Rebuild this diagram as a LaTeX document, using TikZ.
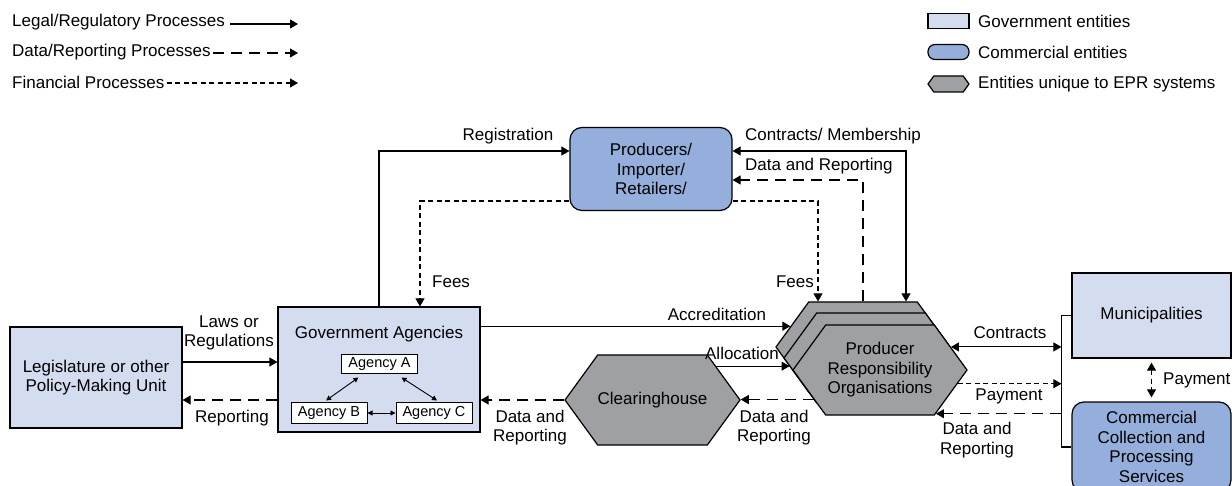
\documentclass[tikz,border=0pt]{standalone}
\usepackage{fontspec}
\setmainfont{Liberation Sans}
\usetikzlibrary{arrows.meta, shapes.symbols, calc}
\newcommand{\Unit}{1pt}
\definecolor{GovFill}{HTML}{D4DDF0}
\definecolor{ComFill}{HTML}{94AFDB}
\definecolor{EprFill}{HTML}{9FA0A3}
\tikzset{
	GovBox/.style={
		draw=black,
		line width=1.2pt,
		fill=GovFill,
		inner sep=0pt,
		align=center,
	},
	ComBox/.style={GovBox, fill=ComFill, rounded corners=12pt},
	EprHex/.style={
		draw=black,
		line width=1.2pt,
		fill=EprFill,
		shape=signal,
		signal to=east and west,
		signal pointer angle=108,
		inner sep=0pt,
		align=center,
	},
	AgencyBox/.style={
		draw=black,
		line width=1pt,
		fill=white,
		inner sep=0pt,
		minimum width=76,
		minimum height=21,
		font=\fontsize{14.5}{17}\selectfont,
	},
	Label/.style={inner sep=0pt, align=center},
	Legal/.style={->, line width=1.1pt},
	Data/.style={Legal, dash pattern=on 11pt off 7pt},
	Financial/.style={Legal, dash pattern=on 5pt off 3.5pt},
	Small/.style={<->, >={Triangle[length=5pt,width=5pt]}, line width=0.9pt},
}

\begin{document}
\begin{tikzpicture}[x=\Unit, y=-\Unit, >={Triangle[length=8pt,width=9pt]},
		font=\fontsize{17}{19.5}\selectfont]
	\clip (0,0) rectangle (1232,486);

	% key, left
	\node[Label, anchor=west] (klegal) at (12,22) {Legal/Regulatory Processes};
	\node[Label, anchor=west] (kdata) at (12,52) {Data/Reporting Processes};
	\node[Label, anchor=west] (kfin) at (12,82) {Financial Processes};
	\coordinate (klegalend) at (298,24);
	\coordinate (kdataend) at (298,53);
	\coordinate (kfinend) at (298,83);
	\draw[Legal] ([xshift=5pt]klegal.east |- klegalend) -- (klegalend);
	\draw[Data] ([xshift=2pt]kdata.east |- kdataend) -- (kdataend);
	\draw[Financial] ([xshift=2pt]kfin.east |- kfinend) -- (kfinend);

	% key, right
	\node[GovBox, minimum width=41, minimum height=15] (kgov) at (948.5,21) {};
	\node[ComBox, rounded corners=7pt, minimum width=41, minimum height=15] (kcom) at (948.5,52) {};
	\node[EprHex, minimum width=41, minimum height=16] (kepr) at (948.5,84) {};
	\foreach \y/\name/\txt in {21/kgov/Government entities, 52/kcom/Commercial entities, 84/kepr/Entities unique to EPR systems}{%
		\node[Label, anchor=west] (\name txt) at (978,\y) {\txt};
	}

	% entities
	\node[GovBox, minimum width=172, minimum height=101] (leg) at (96,377.5) {Legislature or other\\Policy-Making Unit};
	\node[GovBox, minimum width=202, minimum height=125] (gov) at (379,369.5) {};
	\node[Label] (govtitle) at (379,334) {Government Agencies};
	\node[AgencyBox, minimum height=19] (agA) at (379.5,364.5) {Agency A};
	\node[AgencyBox] (agB) at (329,413) {Agency B};
	\node[AgencyBox] (agC) at (434,413) {Agency C};
	\node[ComBox, minimum width=162, minimum height=83] (prod) at (651,169) {Producers/\\Importer/\\Retailers/};
	\node[EprHex, minimum width=173, minimum height=90] (clear) at (652.5,400) {Clearinghouse};
	\foreach \i/\dx/\dy in {1/17/23, 2/9/12}{%
		\node[EprHex, minimum width=174, minimum height=90] (pro\i) at ({880-\dx},{370-\dy}) {};
	}
	\node[EprHex, minimum width=174, minimum height=90] (pro3) at (880,370) {Producer\\Responsibility\\Organisations};
	\node[GovBox, minimum width=159, minimum height=85] (muni) at (1151.5,315.5) {Municipalities};
	\node[ComBox, minimum width=159, minimum height=90] (comm) at (1151.5,447) {Commercial\\Collection and\\Processing\\Services};

	% flows
	\draw[Legal] ([yshift=15.5pt]leg.east) -- ([yshift=7.5pt]gov.west);
	\draw[Data] ([yshift=-30.5pt]gov.west) -- ([yshift=-22.5pt]leg.east);
	\draw[Small] ([xshift=-21pt,yshift=-3pt]agA.south) -- ([xshift=-3pt,yshift=1.5pt]agB.north);
	\draw[Small] ([xshift=22pt,yshift=-3pt]agA.south) -- ([xshift=3pt,yshift=1.5pt]agC.north);
	\draw[Small] (agB.east) -- (agC.west);
	\draw[Legal] (gov.north) |- ([yshift=18pt]prod.west);
	\draw[Financial] ([yshift=-32pt]prod.west) -| ([xshift=41pt]gov.north);
	\draw[Financial] ([yshift=-32pt]prod.east) -| ([xshift=-45pt]pro1.north);
	\draw[Legal, <->] ([yshift=18pt]prod.east) -| ([xshift=43pt]pro1.north);
	\draw[Data] (pro1.north) |- ([yshift=-11pt]prod.east);
	\draw[Legal] (gov.east |- pro1.164) -- (pro1.164);
	\draw[Legal] (clear.28) -- (pro1.195 |- clear.28);
	\draw[Data] (pro3.204) -- (clear.east |- pro3.204);
	\draw[Data] (clear.west) -- (clear.west -| gov.east);
	\coordinate (brk) at ([xshift=-10pt]muni.west);
	\draw[line width=1.1pt] (muni.west) -- (brk) |- (comm.west);
	\draw[Legal, <->] (pro3.18) -- (brk |- pro3.18);
	\draw[Financial] (pro3.350) -- (brk |- pro3.350);
	\draw[Data] (brk |- pro3.322) -- (pro3.322);
	\draw[Financial, <->, shorten >=4pt, shorten <=4pt] (muni.south) -- (comm.north);

	% labels
	\node[Label] (lawslbl) at (229,333) {Laws or\\Regulations};
	\node[Label] (replbl) at (232,418) {Reporting};
	\node[Label] (reglbl) at (508,136) {Registration};
	\node[Label, anchor=west] (memlbl) at (745,136) {Contracts/ Membership};
	\node[Label, anchor=west] (proddatalbl) at (745,166) {Data and Reporting};
	\node[Label, anchor=west] (govfeelbl) at (432,282) {Fees};
	\node[Label, anchor=east] (profeelbl) at (814,282) {Fees};
	\node[Label] (acclbl) at (717,314) {Accreditation};
	\node[Label] (alloclbl) at (742,353) {Allocation};
	\node[Label] (clrdatalbl) at (530,427.5) {Data and\\Reporting};
	\node[Label] (prodatalbl) at (774,427.5) {Data and\\Reporting};
	\node[Label] (conlbl) at (1010,333) {Contracts};
	\node[Label] (paylbl) at (1009,396) {Payment};
	\node[Label] (mundatalbl) at (977,440) {Data and\\Reporting};
	\node[Label, anchor=west] (compaylbl) at (1163,380) {Payment};
\end{tikzpicture}
\end{document}
